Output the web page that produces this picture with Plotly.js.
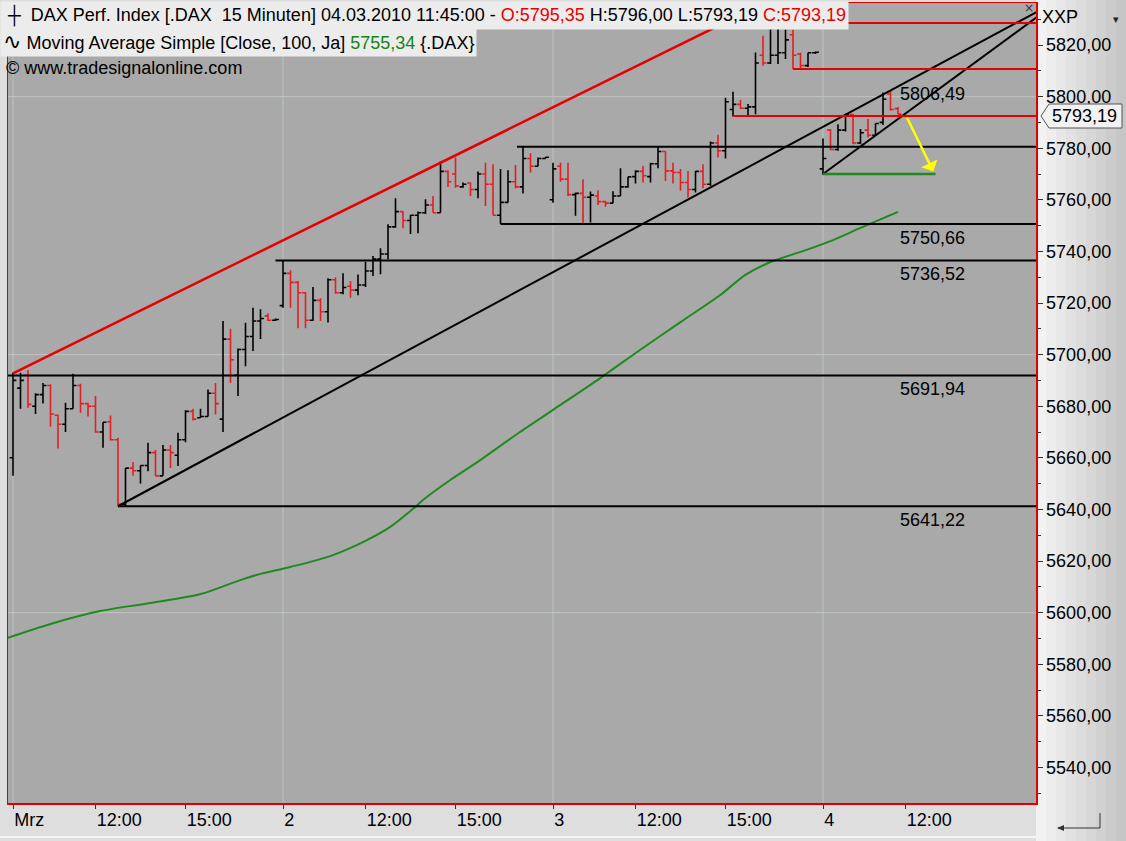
<!DOCTYPE html>
<html><head><meta charset="utf-8">
<script src="https://cdn.plot.ly/plotly-3.0.1.min.js"></script>
<style>html,body{margin:0;padding:0;background:#dedede;}#chart{width:1126px;height:841px;}</style>
</head><body><div id="chart"></div>
<script>
// ---- DATA (15-minute bars, DAX, 01.03.2010 - 04.03.2010) ----
const openP  = [5660,5687,5692,5680,5684.5,5688,5676.5,5673,5679,5688,5681,5680,5670,5674,5667,5642,5656,5655,5657,5662,5653,5663,5661,5667,5678,5675.5,5676,5685,5675,5706,5692,5702,5707,5713,5715,5713.3,
 5719,5731.5,5728,5724,5713.3,5721,5716.6,5729,5724,5726.5,5725,5727,5732.4,5737,5739,5749.5,5755.4,5752,5754,5755,5758,5755,5771,5770,5765,5766.5,5764,5770,5766,5754,5759,5767,5765,5776,5773,5776,
 5760,5773,5768,5762,5762.5,5761,5761.5,5759.3,5758.7,5761.5,5765,5769,5771,5769,5774,5778.7,5771.2,5770.6,5766.7,5764,5771,5766,5782,5779,5795,5797,5795.5,5796,5816,5813,5816,5817,5824,5816.5,5812,5817,
 5772,5787,5779.5,5787,5793,5782,5787,5785,5790,5801,5795.35];
const highP  = [5693,5693,5694,5685,5689,5688.5,5676.8,5681.3,5692.6,5688.7,5681.3,5684,5673.8,5676.4,5667.8,5656,5658.4,5657,5665.8,5663,5665,5665,5669.7,5678.4,5679,5679,5686.5,5689,5713,5710,5702.4,5712.3,5718.2,5717.6,5716,5714,
 5736.6,5732.7,5728.5,5724.3,5726.2,5721.8,5729.6,5730,5731.5,5728.5,5731,5736,5738.2,5741.2,5750.5,5760.6,5755.6,5754.1,5755.5,5760.2,5761.5,5774.8,5771.5,5776.4,5766.7,5766.7,5771,5774.4,5773.8,5771.9,5771.5,5773.5,5780.6,5778,5776.4,5776.6,
 5774.4,5774.4,5774.4,5762.8,5768,5763.2,5763.7,5759.5,5763.3,5772.2,5768.9,5771.5,5773.2,5774.4,5780.5,5778.8,5774.4,5771.9,5771.2,5771.2,5773.8,5782.6,5785.2,5799.6,5801.9,5798.7,5797.1,5817.1,5823.6,5829,5828.5,5826,5826,5817,5817,5817.5,
 5783.8,5787.4,5789.3,5793.2,5793.4,5787.4,5791.3,5789.6,5801.6,5802.3,5796];
const lowP   = [5653,5679,5679.4,5677,5681,5672,5663.6,5670,5679,5677.5,5676,5669.7,5663.9,5666.7,5641.2,5641.2,5653,5650,5654.8,5653,5653,5656,5656.8,5666,5674.5,5675.5,5676,5676.8,5670,5689,5684,5695.5,5701.4,5706,5713,5713,
 5718.2,5718.2,5710.2,5710.2,5713,5713,5712.4,5723.6,5723.4,5722,5723,5726.2,5730.5,5731.1,5737,5749.2,5749,5746.7,5747,5754.5,5755,5755,5765,5764.7,5764.7,5761.5,5760.6,5757.6,5754,5750.66,5759,5764.5,5762.4,5770.6,5773,5776,
 5758.9,5767,5761.5,5753.8,5750.5,5751.2,5758,5757.3,5758.7,5761.5,5764.7,5766.3,5766.7,5766.7,5772.2,5767.3,5766.3,5763.5,5760.9,5762.8,5764.5,5765.4,5776.4,5776,5792.3,5795.2,5792.6,5793.2,5812,5812.6,5812.6,5814.6,5810.7,5811,5811.5,5816.5,
 5769.7,5779.2,5779,5786.5,5781.5,5781.5,5784.1,5784.8,5789,5794.5,5793.19];
const closeP = [5690,5690,5680.7,5684.5,5688,5677,5673,5679,5688,5681,5680,5670,5673.8,5667,5642,5656,5655,5657,5662,5653,5663,5662,5667,5678,5675,5676,5685,5681,5706,5698,5702,5707,5713,5714,5713.3,5713.6,
 5731.5,5728,5724,5713.3,5721,5716.6,5729,5724,5726,5725,5727,5732.4,5737,5739,5749.5,5755.4,5752,5754,5755,5758,5755,5771,5767,5765.4,5766,5764,5770,5766,5754,5759,5767,5765,5776,5773,5776,5776.5,
 5772,5768,5762,5762.5,5761,5761.8,5759.3,5758.7,5761.5,5765,5768.9,5771,5769.3,5774,5778.7,5771.2,5770.6,5766.7,5764,5771,5766,5782,5779,5798,5797,5795.5,5796,5813,5813,5816,5817,5822,5816,5812,5817,5817.2,
 5776,5779.5,5787,5793,5782,5786,5785,5789.6,5799,5795,5793.19];
const barIdx = openP.map((_, i) => i);   // bar sequence number

// Moving Average Simple (Close, 100): bar number -> value
const maIdx = [-1.1, 5, 11.6, 18.3, 25, 30.3, 33, 37, 42.3, 47, 50.3, 53, 55, 58.3, 62.3, 67.6, 73, 78.3, 83.6, 89, 94.3, 97.6, 101, 105, 109, 113, 118];
const maVal = [5589.8,5595.6,5600.6,5603.7,5607.2,5612.6,5615.0,5617.7,5621.9,5627.8,5633.2,5639.4,5644.4,5651.4,5659.1,5670.0,5680.5,5690.9,5701.8,5712.6,5723.1,5730.8,5735.9,5739.8,5744.0,5749.1,5755.34];

// Axis ticks
const xTickIdx  = [0, 11, 23, 36, 47, 59, 72, 83, 95, 108, 119];
const xTickText = ["Mrz","12:00","15:00","2","12:00","15:00","3","12:00","15:00","4","12:00"];
const yTickVals = [5540,5560,5580,5600,5620,5640,5660,5680,5700,5720,5740,5760,5780,5800,5820];
const yTickText = ["5540,00","5560,00","5580,00","5600,00","5620,00","5640,00","5660,00","5680,00","5700,00","5720,00","5740,00","5760,00","5780,00","5800,00","5820,00"];

// Drawn lines: [x0, y0, x1, y1] in bar number / price
const blackLevels = [[-1,5691.94,140,5691.94],[14,5641.22,140,5641.22],[35,5736.52,140,5736.52],[65,5750.66,140,5750.66],[67.2,5780.6,140,5780.6]];
const blackTrends = [[14,5641.22,136.6,5833.0],[108,5770,136.6,5831.0]];
const redLevels   = [[96,5792.5,140,5792.5],[104,5810.7,140,5810.7],[96,5828.5,140,5828.5]];
const redTrend    = [0,5692.7,101,5837.4];
const greenLevel  = [108,5770,123,5770];
const yellowArrow = [119.1,5792.5,122.7,5771];
const levelLabels = [[118,5806.49,"5806,49"],[118,5750.66,"5750,66"],[118,5736.52,"5736,52"],[118,5691.94,"5691,94"],[118,5641.22,"5641,22"]];
const dayStarts = [0, 36, 72, 108];
const gridLevels = [5600, 5700, 5800];

// ---- FIGURE ----
const FONT = "Liberation Sans, Arial, sans-serif";
const RED_BAR = "#e31e24", RED_LINE = "#e60000";
const X = px => (px - 8) / 1028;
const Y = py => (803 - py) / 800;

const traces = [];
traces.push({type:"ohlc", x:barIdx, open:openP, high:highP, low:lowP, close:closeP,
  increasing:{line:{color:"#000000", width:1.6}}, decreasing:{line:{color:RED_BAR, width:1.6}},
  tickwidth:0.45, hoverinfo:"skip", showlegend:false});
traces.push({type:"scatter", mode:"lines", x:maIdx, y:maVal, line:{color:"#1f8a1f", width:2, shape:"spline", smoothing:0.8}, hoverinfo:"skip", showlegend:false});
function seg(s, color, w){ traces.push({type:"scatter", mode:"lines", x:[s[0],s[2]], y:[s[1],s[3]], line:{color:color, width:w}, hoverinfo:"skip", showlegend:false}); }
blackLevels.forEach(s => seg(s, "#000000", 2));
blackTrends.forEach(s => seg(s, "#000000", 2));
redLevels.forEach(s => seg(s, RED_LINE, 2));
seg(redTrend, RED_LINE, 2.5);
seg(greenLevel, "#1f8a1f", 2.5);

const shapes = [];
// grid
dayStarts.forEach(d => shapes.push({type:"line", xref:"x", yref:"paper", x0:d, x1:d, y0:0, y1:1, line:{color:"#bcc5bc", width:1}, layer:"below"}));
gridLevels.forEach(g => shapes.push({type:"line", xref:"paper", yref:"y", x0:0, x1:1, y0:g, y1:g, line:{color:"#bcc5bc", width:1}, layer:"below"}));
// right panel gradient
for (let i = 0; i < 9; i++) {
  const c = Math.round(242 - i * 5.5);
  shapes.push({type:"rect", xref:"paper", yref:"paper", x0:X(1036 + i*10), x1:X(1047 + i*10), y0:Y(841), y1:Y(0), fillcolor:`rgb(${c},${c},${c})`, line:{width:0}, layer:"below"});
}
// bottom panel lower edge
shapes.push({type:"line", xref:"paper", yref:"paper", x0:X(0), x1:X(1036), y0:Y(837), y1:Y(837), line:{color:"#f6f6f6", width:2}, layer:"below"});
// price marker
shapes.push({type:"path", xref:"paper", yref:"paper",
  path:`M ${X(1049)} ${Y(104)} L ${X(1122)} ${Y(104)} L ${X(1122)} ${Y(128)} L ${X(1049)} ${Y(128)} L ${X(1041)} ${Y(116)} Z`,
  fillcolor:"#f2f2f2", line:{color:"#555555", width:1}, layer:"above"});
// bottom-right icon
shapes.push({type:"line", xref:"paper", yref:"paper", x0:X(1058), x1:X(1100), y0:Y(828), y1:Y(828), line:{color:"#333", width:1}});
shapes.push({type:"line", xref:"paper", yref:"paper", x0:X(1100), x1:X(1100), y0:Y(828), y1:Y(813), line:{color:"#333", width:1}});
shapes.push({type:"path", xref:"paper", yref:"paper", path:`M ${X(1057)} ${Y(828)} L ${X(1064)} ${Y(825)} L ${X(1064)} ${Y(831)} Z`, fillcolor:"#333", line:{width:0}});

const annotations = [];
annotations.push({xref:"paper", yref:"paper", x:X(0), y:Y(16), xanchor:"left", yanchor:"middle", showarrow:false, align:"left",
  text:'&nbsp;┼&nbsp;&nbsp;DAX Perf. Index [.DAX&nbsp;&nbsp;15 Minuten] 04.03.2010 11:45:00 - <span style="color:#e60000">O:5795,35</span> H:5796,00 L:5793,19 <span style="color:#e60000">C:5793,19</span>',
  font:{family:FONT, size:18, color:"#000"}, bgcolor:"#ececec", borderpad:2});
annotations.push({xref:"paper", yref:"paper", x:X(0), y:Y(42), xanchor:"left", yanchor:"middle", showarrow:false, align:"left",
  text:'<span style="font-family:DejaVu Sans;font-size:22px">∿</span>&nbsp;Moving Average Simple [Close, 100, Ja] <span style="color:#178317">5755,34</span> {.DAX}',
  font:{family:FONT, size:18, color:"#000"}, bgcolor:"#ececec", borderpad:2});
annotations.push({xref:"paper", yref:"paper", x:X(4), y:Y(68), xanchor:"left", yanchor:"middle", showarrow:false,
  text:'© www.tradesignalonline.com', font:{family:FONT, size:18, color:"#000"}});
levelLabels.forEach(l => annotations.push({xref:"x", yref:"y", x:l[0], y:l[1], xanchor:"left", yanchor:"top", yshift:-2, showarrow:false,
  text:l[2], font:{family:FONT, size:18, color:"#000"}}));
annotations.push({xref:"x", yref:"y", axref:"x", ayref:"y", x:yellowArrow[2], y:yellowArrow[3], ax:yellowArrow[0], ay:yellowArrow[1],
  showarrow:true, arrowhead:1, arrowsize:1.2, arrowwidth:2.5, arrowcolor:"#ffff00", text:""});
annotations.push({xref:"paper", yref:"paper", x:X(1040), y:Y(17), xanchor:"left", yanchor:"middle", showarrow:false, text:"XXP", font:{family:FONT, size:18, color:"#000"}});
annotations.push({xref:"paper", yref:"paper", x:X(1116), y:Y(20), xanchor:"center", yanchor:"middle", showarrow:false, text:"▾", font:{family:"DejaVu Sans", size:11, color:"#222"}});
annotations.push({xref:"paper", yref:"paper", x:X(1029), y:Y(8), xanchor:"center", yanchor:"middle", showarrow:false, text:"×", font:{family:"DejaVu Sans", size:12, color:"#333"}});
annotations.push({xref:"paper", yref:"paper", x:X(1084), y:Y(116), xanchor:"center", yanchor:"middle", showarrow:false, text:"5793,19", font:{family:FONT, size:18, color:"#000"}});

const layout = {
  width:1126, height:841, margin:{l:8, r:90, t:3, b:38},
  paper_bgcolor:"#dedede", plot_bgcolor:"#a9a9a9", showlegend:false,
  font:{family:FONT, size:18, color:"#000"},
  xaxis:{range:[-0.667, 136.4], tickmode:"array", tickvals:xTickIdx, ticktext:xTickText, ticks:"outside", ticklen:4, tickcolor:"#333",
    ticklabelposition:"outside right", tickfont:{family:FONT, size:18, color:"#000"}, showgrid:false, zeroline:false,
    showline:true, linecolor:"#e00000", linewidth:1.5, mirror:true, rangeslider:{visible:false}, fixedrange:true},
  yaxis:{side:"right", range:[5526.2, 5836.28], tickmode:"array", tickvals:yTickVals, ticktext:yTickText, ticks:"outside", ticklen:5, tickcolor:"#333",
    tickfont:{family:FONT, size:18, color:"#000"}, showgrid:false, zeroline:false, showline:true, linecolor:"#e00000", linewidth:1.5, mirror:true,
    minor:{tickmode:"linear", tick0:5530, dtick:20, ticks:"outside", ticklen:3, tickcolor:"#333", showgrid:false}, fixedrange:true},
  shapes:shapes, annotations:annotations
};
Plotly.newPlot("chart", traces, layout, {displayModeBar:false, staticPlot:true});
</script></body></html>
